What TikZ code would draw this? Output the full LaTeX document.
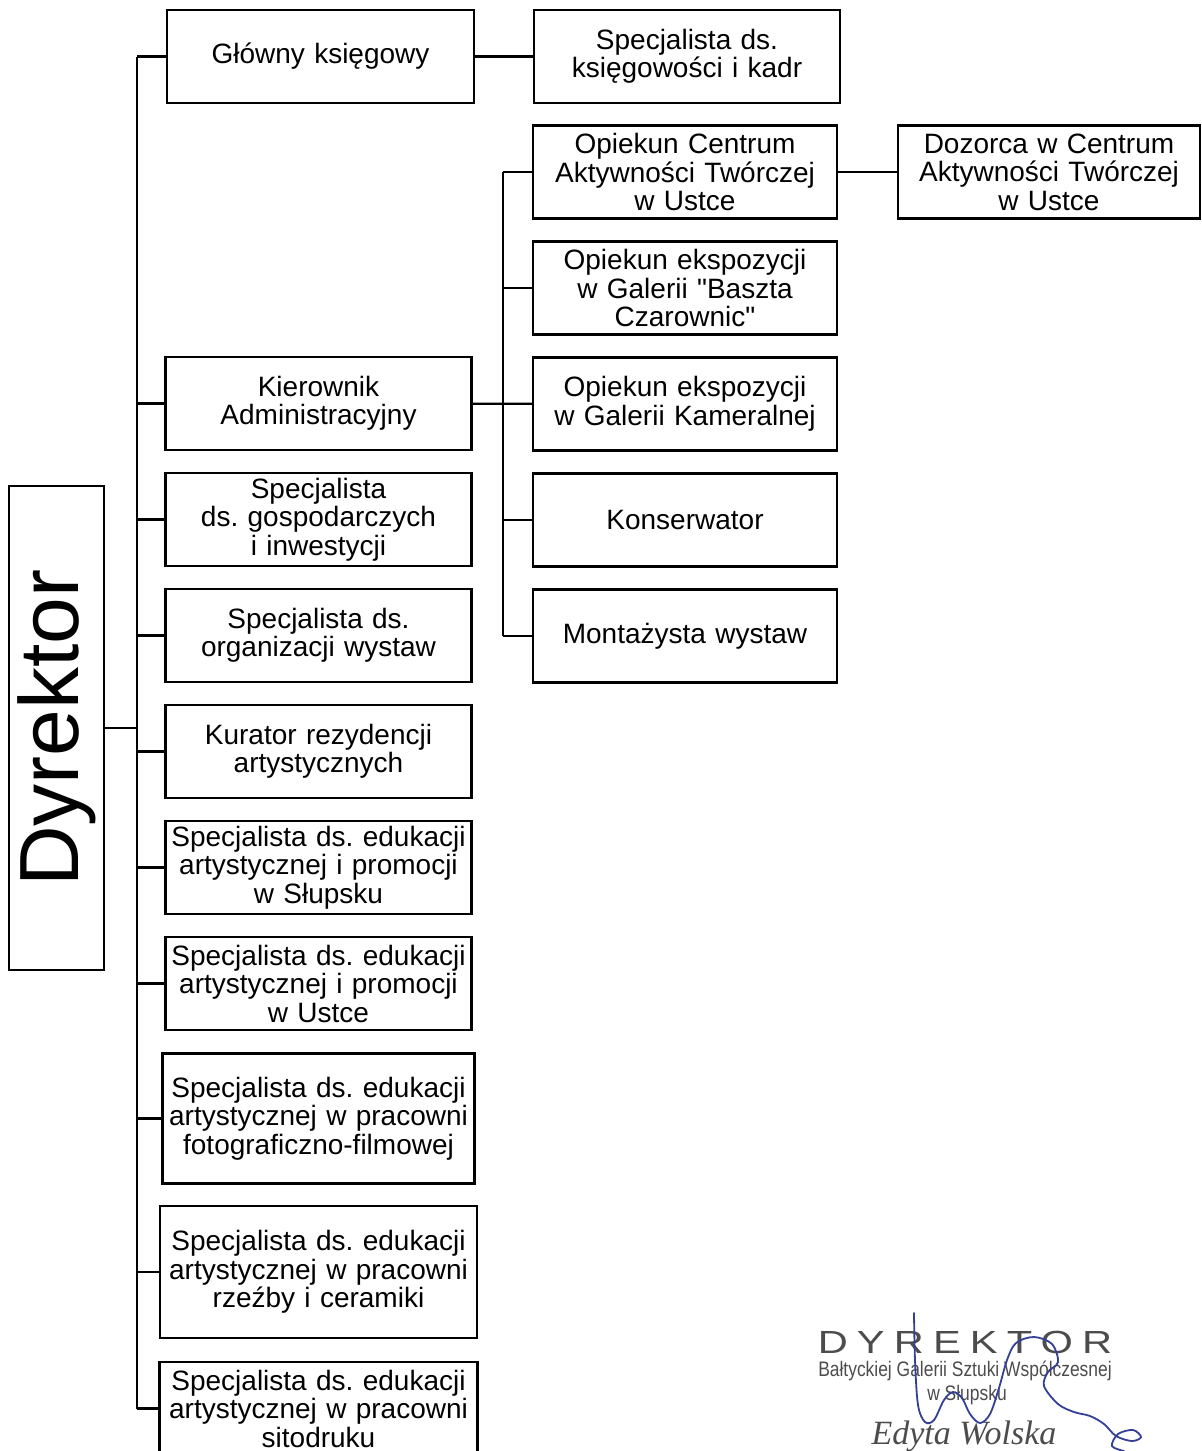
\documentclass[tikz,border=0pt]{standalone}
\usepackage{fontspec}
\setmainfont{Liberation Sans}
\newfontfamily\stampserif{Liberation Serif}
\usetikzlibrary{positioning}
\definecolor{ink}{RGB}{52,64,150}
\frenchspacing

\begin{document}
\begin{tikzpicture}[x=1pt, y=-1pt, node distance = 116pt, auto]
    \tikzstyle{block} = [rectangle, draw, line width=2.4pt, text width=302pt, align=center,
    minimum height=93pt, inner xsep=2pt, inner ysep=0pt, font=\fontsize{28}{28.5}\selectfont]
    \tikzstyle{head} = [rectangle, draw, line width=2.4pt, rotate=90, minimum width=484pt,
    minimum height=95pt, inner sep=0pt, font=\fontsize{84}{90}\selectfont]
    \tikzstyle{line} = [draw, line width=2.2pt]
    \tikzstyle{stamp} = [black!70, inner sep=0pt, anchor=base]
    \useasboundingbox (0,0) rectangle (1202,1451);
    % dyrektor and the main branch
    \node [head] (dyr) at (56.5,728) {Dyrektor};
    \node [block, text width=303pt] (gk) at (320.5,56.5) {Główny księgowy};
    \node [block] (kier) at (318.5,403.5) {Kierownik\\Administracyjny};
    \node [block, below of=kier] (gosp) {Specjalista\\ds. gospodarczych\\i inwestycji};
    \node [block, below of=gosp] (org) {Specjalista ds.\\organizacji wystaw};
    \node [block, below of=org] (kur) {Kurator rezydencji\\artystycznych};
    \node [block, below of=kur] (slup) {Specjalista ds. edukacji\\artystycznej i promocji\\w Słupsku};
    \node [block, below of=slup] (ustka) {Specjalista ds. edukacji\\artystycznej i promocji\\w Ustce};
    \node [block, below of=ustka, node distance=135pt, text width=308pt, minimum height=130pt] (foto) {Specjalista ds. edukacji\\artystycznej w pracowni\\fotograficzno-filmowej};
    \node [block, below of=foto, node distance=153.5pt, text width=313pt, minimum height=132pt] (rzezba) {Specjalista ds. edukacji\\artystycznej w pracowni\\rzeźby i ceramiki};
    \node [block, below of=rzezba, node distance=136.5pt, text width=314pt] (sito) {Specjalista ds. edukacji\\artystycznej w pracowni\\sitodruku};
    % second column
    \node [block] (ksk) at (687,56.5) {Specjalista ds.\\księgowości i kadr};
    \node [block, text width=300pt] (opc) at (685,172) {Opiekun Centrum\\Aktywności Twórczej\\w Ustce};
    \node [block, below of=opc, text width=300pt] (baszta) {Opiekun ekspozycji\\w Galerii \textquotedbl Baszta\\Czarownic\textquotedbl};
    \node [block, below of=baszta, text width=300pt] (kgal) {Opiekun ekspozycji\\w Galerii Kameralnej};
    \node [block, below of=kgal, text width=300pt] (kons) {Konserwator};
    \node [block, below of=kons, text width=300pt] (mont) {Montażysta wystaw};
    \node [block, right of=opc, node distance=364pt, text width=298pt] (doz) {Dozorca w Centrum\\Aktywności Twórczej\\w Ustce};
    % connectors
    \coordinate (trunk) at (137,0);
    \coordinate (sub) at (503,0);
    \path [line] (dyr.south) -- (trunk |- dyr.south);
    \path [line] (trunk |- gk) -- (trunk |- sito);
    \foreach \n in {gk, kier, gosp, org, kur, slup, ustka, foto, rzezba, sito}
        \path [line] (trunk |- \n) -- (\n);
    \path [line] (gk) -- (ksk);
    \path [line] (kier) -- (kgal);
    \path [line] (sub |- opc) -- (sub |- mont);
    \foreach \n in {opc, baszta, kons, mont}
        \path [line] (sub |- \n) -- (\n);
    \path [line] (opc) -- (doz);
    % stamp and signature
    \node [stamp, font=\fontsize{32}{32}\selectfont\addfontfeature{LetterSpace=22}, xscale=1.3] (st1) at (965,1353) {DYREKTOR};
    \node [stamp, font=\fontsize{21}{21}\selectfont, xscale=0.83] (st2) at (965,1376) {Bałtyckiej Galerii Sztuki Współczesnej};
    \node [stamp, font=\fontsize{21}{21}\selectfont, xscale=0.83] (st3) at (967,1400) {w Słupsku};
    \node [stamp, font=\stampserif\itshape\fontsize{34}{34}\selectfont] (st4) at (964,1444) {Edyta Wolska};
    \draw [ink, line width=1.8pt, line cap=round] plot [smooth, tension=0.55] coordinates {
        (914,1313) (915,1360) (918,1405) (925,1422) (934,1420) (944,1400) (953,1392)
        (962,1398) (970,1414) (980,1423) (990,1414) (999,1388) (1007,1360) (1016,1343)
        (1034,1337) (1052,1344) (1058,1362) (1048,1372) (1044,1386) (1058,1404)
        (1074,1412) (1090,1416) (1104,1424) (1116,1436) (1132,1441) (1141,1437)
        (1133,1430) (1118,1434) (1112,1446) (1124,1451)};
\end{tikzpicture}
\end{document}
